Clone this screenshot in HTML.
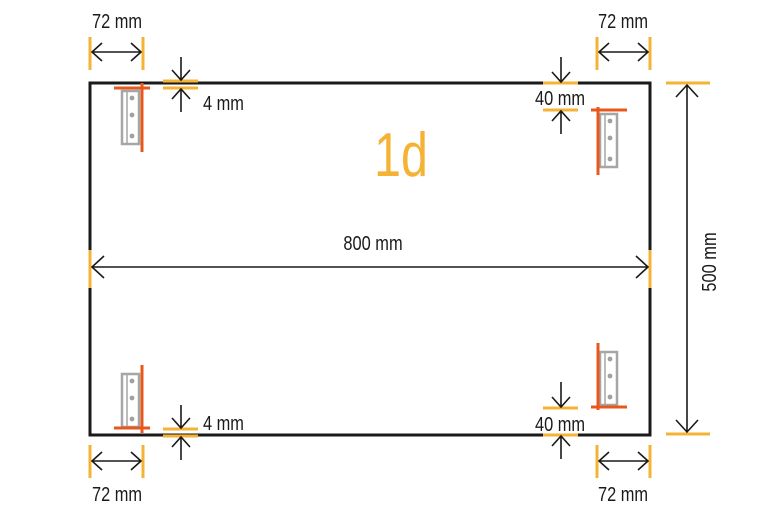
<!DOCTYPE html>
<html><head><meta charset="utf-8"><style>
html,body{margin:0;padding:0;background:#fff;}
svg{display:block;}
text{font-family:"Liberation Sans Narrow","Liberation Sans",sans-serif;fill:#1a1a1a;}
</style></head><body>
<svg width="768" height="512" viewBox="0 0 768 512" xmlns="http://www.w3.org/2000/svg">
<defs>
<g id="brk">
<rect x="0" y="0" width="17" height="53" fill="none" stroke="#a6a6a6" stroke-width="2.5"/>
<line x1="5" y1="0" x2="5" y2="53" stroke="#a6a6a6" stroke-width="1.5"/>
<circle cx="10" cy="7" r="2.4" fill="#a0a0a0"/>
<circle cx="10" cy="24" r="2.4" fill="#a0a0a0"/>
<circle cx="10" cy="45" r="2.4" fill="#a0a0a0"/>
</g>
</defs>
<rect x="90" y="83" width="560" height="352" fill="none" stroke="#1a1a1a" stroke-width="3"/>
<g stroke="#f5b335" stroke-width="3" fill="none">
<line x1="90" y1="37" x2="90" y2="70"/><line x1="143" y1="37" x2="143" y2="70"/>
<line x1="597" y1="37" x2="597" y2="70"/><line x1="650" y1="37" x2="650" y2="70"/>
<line x1="90" y1="445" x2="90" y2="478"/><line x1="143" y1="445" x2="143" y2="478"/>
<line x1="597" y1="445" x2="597" y2="478"/><line x1="650" y1="445" x2="650" y2="478"/>
<line x1="163" y1="81" x2="198" y2="81"/><line x1="163" y1="88" x2="198" y2="88"/>
<line x1="163" y1="429" x2="198" y2="429"/><line x1="163" y1="436" x2="198" y2="436"/>
<line x1="543" y1="83" x2="578" y2="83"/><line x1="543" y1="110" x2="578" y2="110"/>
<line x1="543" y1="408" x2="578" y2="408"/><line x1="543" y1="435" x2="578" y2="435"/>
<line x1="666" y1="83" x2="710" y2="83"/><line x1="666" y1="434" x2="710" y2="434"/>
<line x1="90" y1="250" x2="90" y2="288"/><line x1="650" y1="250" x2="650" y2="288"/>
</g>
<g stroke="#1a1a1a" stroke-width="1.6" fill="none">
<path d="M92 52H141M102 43L92 52L102 61M131 43L141 52L131 61"/>
<path d="M599 52H648M609 43L599 52L609 61M638 43L648 52L638 61"/>
<path d="M92 461H141M102 452L92 461L102 470M131 452L141 461L131 470"/>
<path d="M599 461H648M609 452L599 461L609 470M638 452L648 461L638 470"/>
<path d="M92 267H648M104 256L92 267L104 278M636 256L648 267L636 278"/>
<path d="M687 85V432M676 97L687 85L698 97M676 420L687 432L698 420"/>
<path d="M181 57V80M172 70L181 80L190 70M181 89V112M172 99L181 89L190 99"/>
<path d="M181 405V428M172 418L181 428L190 418M181 437V460M172 447L181 437L190 447"/>
<path d="M561 57V82M552 72L561 82L570 72M561 111V134M552 121L561 111L570 121"/>
<path d="M561 382V407M552 397L561 407L570 397M561 436V459M552 446L561 436L570 446"/>
</g>
<use href="#brk" x="122" y="91"/>
<use href="#brk" x="600" y="114"/>
<use href="#brk" x="122" y="374"/>
<use href="#brk" x="600" y="352"/>
<g stroke="#e8581c" stroke-width="3">
<line x1="114" y1="88" x2="150" y2="88"/><line x1="142" y1="83" x2="142" y2="152"/>
<line x1="591" y1="110" x2="627" y2="110"/><line x1="598" y1="107" x2="598" y2="175"/>
<line x1="114" y1="428" x2="150" y2="428"/><line x1="142" y1="365" x2="142" y2="433"/>
<line x1="591" y1="407" x2="627" y2="407"/><line x1="598" y1="343" x2="598" y2="410"/>
</g>
<g font-size="20">
<text transform="translate(117,28) scale(0.82,1)" text-anchor="middle">72 mm</text>
<text transform="translate(623,28) scale(0.82,1)" text-anchor="middle">72 mm</text>
<text transform="translate(117,501) scale(0.82,1)" text-anchor="middle">72 mm</text>
<text transform="translate(623,501) scale(0.82,1)" text-anchor="middle">72 mm</text>
<text transform="translate(203,110) scale(0.82,1)">4 mm</text>
<text transform="translate(203,430) scale(0.82,1)">4 mm</text>
<text transform="translate(560,105) scale(0.82,1)" text-anchor="middle">40 mm</text>
<text transform="translate(560,431) scale(0.82,1)" text-anchor="middle">40 mm</text>
<text transform="translate(373,250) scale(0.82,1)" text-anchor="middle">800 mm</text>
<text transform="translate(716,262) rotate(-90) scale(0.82,1)" text-anchor="middle">500 mm</text>
</g>
<text transform="translate(401,176) scale(0.78,1)" text-anchor="middle" font-size="62" style="fill:#f5b335">1d</text>
</svg>
</body></html>
